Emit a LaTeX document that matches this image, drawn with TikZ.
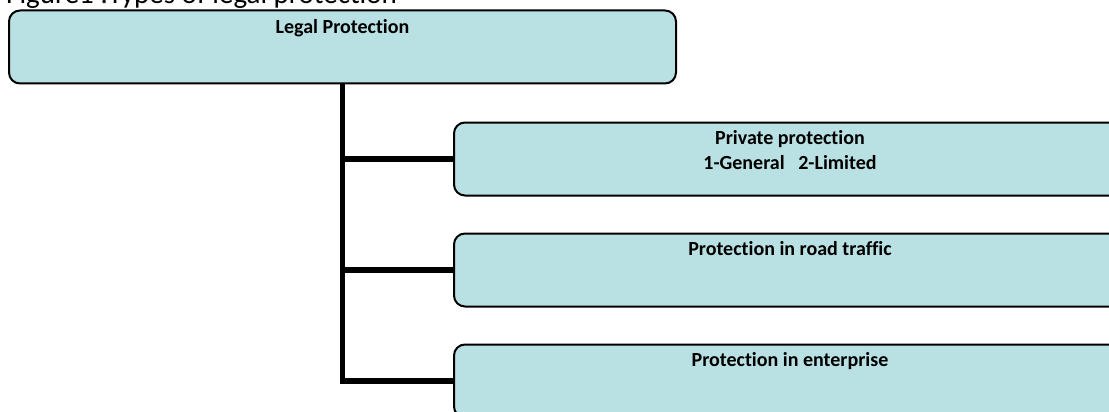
\documentclass[tikz,border=0pt]{standalone}
\usepackage{fontspec}
\setmainfont[Ligatures=NoCommon]{Carlito}
\usepackage{tikz}
\usetikzlibrary{calc, positioning, shapes}
\definecolor{legalblue}{RGB}{185,224,227}
\tikzset{pbox/.style={draw=black, line width=2pt, fill=legalblue, rounded corners=11pt, minimum height=73pt, inner sep=0pt},
plab/.style={font=\bfseries\fontsize{20}{25}\selectfont, align=center, inner sep=0pt, anchor=base},
conn/.style={draw=black, line width=5.5pt}}
\begin{document}
\begin{tikzpicture}[x=1pt, y=-1pt]
\useasboundingbox (0,0) rectangle (1109,412);
\node[anchor=base west, inner sep=0pt, font=\fontsize{29}{32}\selectfont] (title) at (6,3.5) {Figure1 :Types of legal protection};
%top box
\node[pbox, minimum width=667pt] (legal) at (342.5,47) {};
\node[plab] (legaltxt) at ($(legal.north)+(0,24)$) {Legal Protection};
%right boxes
\node[pbox, minimum width=672pt] (priv) at (790,159) {};
\node[pbox, minimum width=672pt] (road) at (790,270) {};
\node[pbox, minimum width=672pt] (enter) at (790,381) {};
\node[plab] (privtxt) at ($(priv.north)+(0,48)$) {Private protection\\1-General\ \ \ 2-Limited};%base is the last line
\node[plab] (roadtxt) at ($(road.north)+(0,23)$) {Protection in road traffic};
\node[plab] (entertxt) at ($(enter.north)+(0,23)$) {Protection in enterprise};
\foreach \b in {priv,road,enter} {\draw[conn] (legal.south) |- (\b.west);}%tree lines
\end{tikzpicture}
\end{document}
